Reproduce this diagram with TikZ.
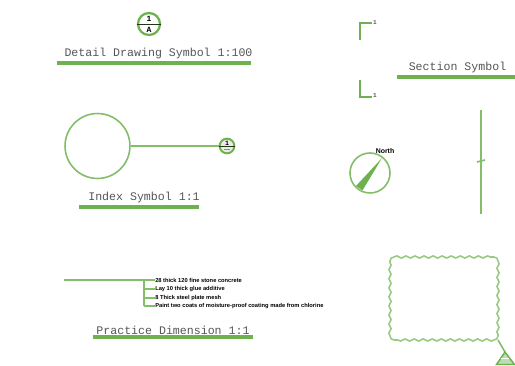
\documentclass[tikz,border=0pt]{standalone}
\usepackage{fontspec}
\setmainfont{Liberation Mono}
\newfontfamily\notefont{Liberation Sans}
\usetikzlibrary{decorations.pathmorphing}
\definecolor{cadgreen}{HTML}{6DB24F}
\definecolor{cadtext}{HTML}{555555}
\tikzset{
	titlebar/.style={draw=cadgreen, line width=2.4pt},
	symline/.style={draw=cadgreen!85, line width=1.2pt},
	cloudline/.style={draw=cadgreen!70, line width=1.2pt, decorate, decoration={snake, segment length=6.8pt, amplitude=0.8pt}},
	cornerline/.style={draw=cadgreen!70, line width=1.2pt},
	titletext/.style={text=cadtext, font=\fontsize{8.7}{11}\selectfont, inner sep=0pt},
	smalltext/.style={text=black, font=\notefont\fontsize{4.3}{6}\selectfont\bfseries, inner sep=0pt, anchor=west},
	numtext/.style={text=black, font=\fontsize{6}{6}\selectfont\bfseries, inner sep=0pt}
}

\begin{document}
\begin{tikzpicture}[x=0.75pt,y=-0.75pt]

\useasboundingbox (0,0) rectangle (515,366);

% detail drawing symbol
\node[circle, draw=cadgreen, line width=1.7pt, minimum size=16.5pt, inner sep=0pt] (detail) at (149,24) {};
\draw[black!70!cadgreen, line width=0.7pt] (detail.west) -- (detail.east);
\node[numtext] (detailnum) at (149,18.5) {1};
\node[numtext] (detailsheet) at (149,30) {A};
\node[titletext] (detailtitle) at (158.5,54) {Detail Drawing Symbol 1:100};
\coordinate (detaila) at (57,63);
\coordinate (detailb) at (251,63);
\draw[titlebar] (detaila) -- (detailb);

% index symbol
\node[circle, symline, minimum size=48.7pt, inner sep=0pt] (indexbig) at (97.5,146) {};
\node[circle, draw=cadgreen, line width=1.5pt, fill=black!8, minimum size=11pt, inner sep=0pt] (indexsmall) at (227,146) {};
\draw[symline] (indexbig) -- (indexsmall);
\draw[black!70!cadgreen, line width=0.5pt] (indexsmall.west) -- (indexsmall.east);
\node[numtext, font=\fontsize{5}{5}\selectfont\bfseries] (indexnum) at (227,143) {1};
\draw[black!45, line width=0.6pt] (224,149.5) -- (230,149.5);
\node[titletext] (indextitle) at (144,198) {Index Symbol 1:1};
\coordinate (indexa) at (79,207);
\coordinate (indexb) at (199,207);
\draw[titlebar] (indexa) -- (indexb);

% practice dimension
\coordinate (leadstart) at (64,280);
\coordinate (leadtop) at (144,280);
\coordinate (leadbot) at (144,306);
\node[smalltext] (layera) at (155,280) {28 thick 120 fine stone concrete};
\node[smalltext] (layerb) at (155,289) {Lay 10 thick glue additive};
\node[smalltext] (layerc) at (155,298) {8 Thick steel plate mesh};
\node[smalltext] (layerd) at (155,306) {Paint two coats of moisture-proof coating made from chlorine};
\draw[symline] (leadstart) -- (layera.west);
\draw[symline] (leadtop) -- (leadbot);
\foreach \n/\y in {b/289,c/298,d/306}{
	\draw[symline] (144,\y) -- (layer\n.west);
}
\node[titletext] (practicetitle) at (173,330) {Practice Dimension 1:1};
\coordinate (practicea) at (93,337);
\coordinate (practiceb) at (253,337);
\draw[titlebar] (practicea) -- (practiceb);

% section symbol
\draw[cadgreen, line width=2.2pt] (360,40) -- (360,23) -- (372,23);
\draw[cadgreen, line width=2.2pt] (360,80) -- (360,97) -- (372,97);
\node[numtext, font=\fontsize{4.5}{5}\selectfont\bfseries, text=cadtext] (sectop) at (375,23) {1};
\node[numtext, font=\fontsize{4.5}{5}\selectfont\bfseries, text=cadtext] (secbot) at (375,96) {1};
\node[titletext] (sectiontitle) at (457.5,68) {Section Symbol};
\coordinate (sectiona) at (397,77);
\coordinate (sectionb) at (515,77);
\draw[titlebar] (sectiona) -- (sectionb);

% north symbol
\node[circle, symline, minimum size=30pt, inner sep=0pt] (north) at (370,173) {};
\fill[cadgreen] (382,158) -- (362.5,190.5) -- (356,186) -- cycle;
\node[numtext, font=\notefont\fontsize{5.2}{6}\selectfont\bfseries] (northtext) at (385,151) {North};

% break line
\coordinate (breaka) at (481,110);
\coordinate (breakb) at (481,214);
\draw[symline] (breaka) -- (breakb);
\draw[symline] (477,162) -- (485,160);

% revision cloud
\coordinate (cloudnw) at (394,257);
\coordinate (cloudne) at (494,257);
\coordinate (cloudes) at (498,336);
\coordinate (cloudse) at (494,340);
\coordinate (cloudsw) at (394,340);
\coordinate (cloudwn) at (390,261);
\draw[cloudline] (cloudnw) -- (cloudne);
\draw[cloudline] (498,261) -- (cloudes);
\draw[cloudline] (cloudse) -- (cloudsw);
\draw[cloudline] (390,336) -- (cloudwn);
\draw[cornerline] (cloudwn) arc (180:270:4);
\draw[cornerline] (cloudne) arc (-90:0:4);
\draw[cornerline] (cloudes) arc (0:90:4);
\draw[cornerline] (cloudsw) arc (90:180:4);
\coordinate (cloudtip) at (498,340);
\coordinate (triangletop) at (505,352);
\draw[symline] (cloudtip) -- (triangletop);
\draw[cadgreen, line width=1.1pt, fill=cadgreen!45] (triangletop) -- (514.5,364.5) -- (496.5,364.5) -- cycle;
\draw[white, line width=0.6pt] (501,358.5) -- (509,358.5);

\end{tikzpicture}
\end{document}
